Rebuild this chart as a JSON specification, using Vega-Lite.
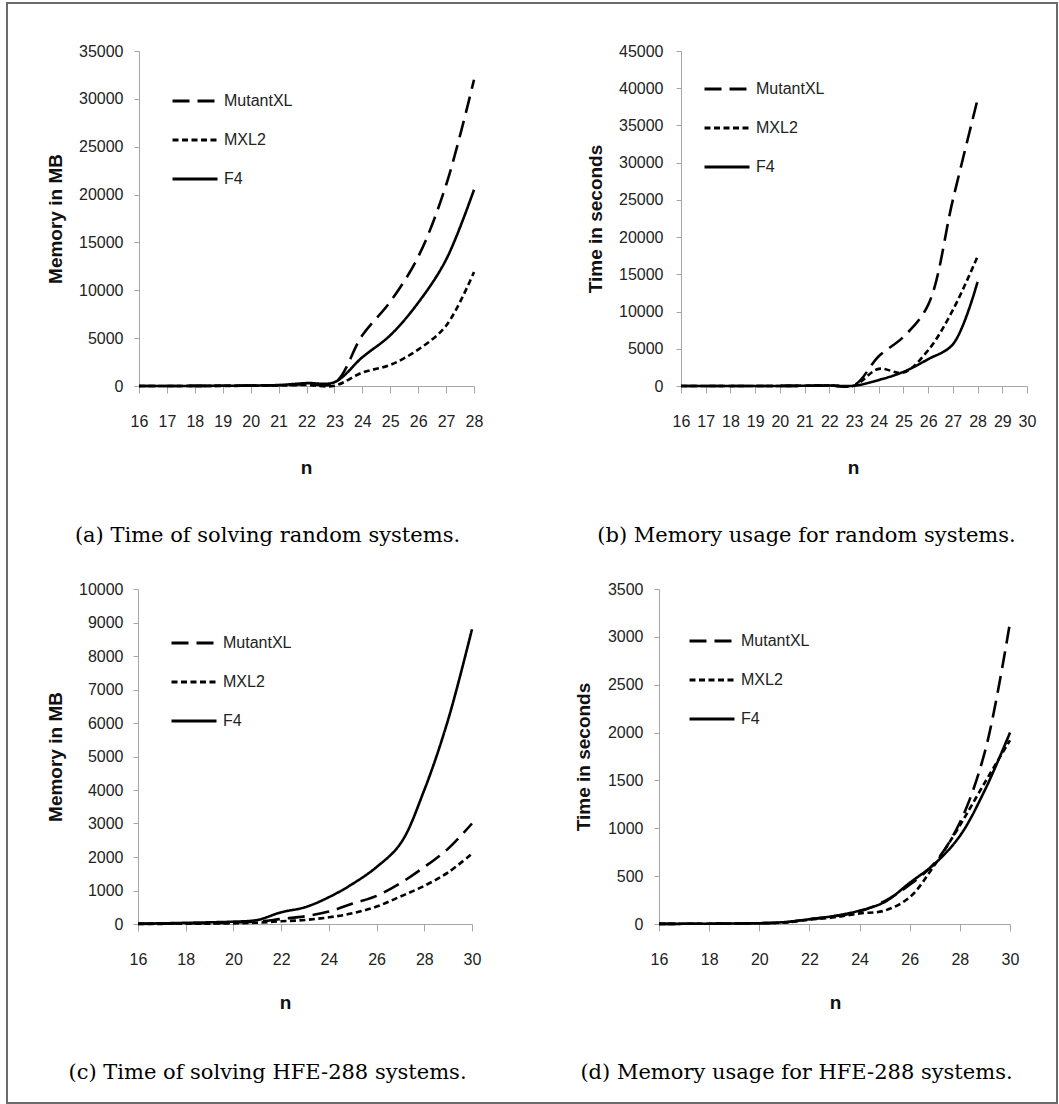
{
  "$schema": "https://vega.github.io/schema/vega-lite/v6.json",
  "width": 1050,
  "height": 1100,
  "autosize": {"type": "none"},
  "padding": {"left": 7, "top": 3, "right": 2, "bottom": 1},
  "background": "white",
  "data": {
    "values": [
      {"p": "a", "s": "MutantXL", "n": 16, "v": 2}, {"p": "a", "s": "MutantXL", "n": 17, "v": 5}, {"p": "a", "s": "MutantXL", "n": 18, "v": 10}, {"p": "a", "s": "MutantXL", "n": 19, "v": 20}, {"p": "a", "s": "MutantXL", "n": 20, "v": 40}, {"p": "a", "s": "MutantXL", "n": 21, "v": 80}, {"p": "a", "s": "MutantXL", "n": 22, "v": 200}, {"p": "a", "s": "MutantXL", "n": 23, "v": 300}, {"p": "a", "s": "MutantXL", "n": 24, "v": 5300}, {"p": "a", "s": "MutantXL", "n": 25, "v": 8800}, {"p": "a", "s": "MutantXL", "n": 26, "v": 13500}, {"p": "a", "s": "MutantXL", "n": 27, "v": 21000}, {"p": "a", "s": "MutantXL", "n": 28, "v": 32000},
      {"p": "a", "s": "MXL2", "n": 16, "v": 1}, {"p": "a", "s": "MXL2", "n": 17, "v": 3}, {"p": "a", "s": "MXL2", "n": 18, "v": 6}, {"p": "a", "s": "MXL2", "n": 19, "v": 12}, {"p": "a", "s": "MXL2", "n": 20, "v": 25}, {"p": "a", "s": "MXL2", "n": 21, "v": 50}, {"p": "a", "s": "MXL2", "n": 22, "v": 100}, {"p": "a", "s": "MXL2", "n": 23, "v": 30}, {"p": "a", "s": "MXL2", "n": 24, "v": 1400}, {"p": "a", "s": "MXL2", "n": 25, "v": 2200}, {"p": "a", "s": "MXL2", "n": 26, "v": 3800}, {"p": "a", "s": "MXL2", "n": 27, "v": 6300}, {"p": "a", "s": "MXL2", "n": 28, "v": 11900},
      {"p": "a", "s": "F4", "n": 16, "v": 2}, {"p": "a", "s": "F4", "n": 17, "v": 5}, {"p": "a", "s": "F4", "n": 18, "v": 10}, {"p": "a", "s": "F4", "n": 19, "v": 25}, {"p": "a", "s": "F4", "n": 20, "v": 50}, {"p": "a", "s": "F4", "n": 21, "v": 100}, {"p": "a", "s": "F4", "n": 22, "v": 300}, {"p": "a", "s": "F4", "n": 23, "v": 400}, {"p": "a", "s": "F4", "n": 24, "v": 3000}, {"p": "a", "s": "F4", "n": 25, "v": 5300}, {"p": "a", "s": "F4", "n": 26, "v": 8700}, {"p": "a", "s": "F4", "n": 27, "v": 13200}, {"p": "a", "s": "F4", "n": 28, "v": 20500},

      {"p": "b", "s": "MutantXL", "n": 16, "v": 1}, {"p": "b", "s": "MutantXL", "n": 17, "v": 2}, {"p": "b", "s": "MutantXL", "n": 18, "v": 3}, {"p": "b", "s": "MutantXL", "n": 19, "v": 5}, {"p": "b", "s": "MutantXL", "n": 20, "v": 10}, {"p": "b", "s": "MutantXL", "n": 21, "v": 30}, {"p": "b", "s": "MutantXL", "n": 22, "v": 80}, {"p": "b", "s": "MutantXL", "n": 23, "v": 100}, {"p": "b", "s": "MutantXL", "n": 24, "v": 4000}, {"p": "b", "s": "MutantXL", "n": 25, "v": 6600}, {"p": "b", "s": "MutantXL", "n": 26, "v": 10900}, {"p": "b", "s": "MutantXL", "n": 27, "v": 25000}, {"p": "b", "s": "MutantXL", "n": 28, "v": 38500},
      {"p": "b", "s": "MXL2", "n": 16, "v": 1}, {"p": "b", "s": "MXL2", "n": 17, "v": 2}, {"p": "b", "s": "MXL2", "n": 18, "v": 3}, {"p": "b", "s": "MXL2", "n": 19, "v": 5}, {"p": "b", "s": "MXL2", "n": 20, "v": 10}, {"p": "b", "s": "MXL2", "n": 21, "v": 30}, {"p": "b", "s": "MXL2", "n": 22, "v": 80}, {"p": "b", "s": "MXL2", "n": 23, "v": 50}, {"p": "b", "s": "MXL2", "n": 24, "v": 2300}, {"p": "b", "s": "MXL2", "n": 25, "v": 1800}, {"p": "b", "s": "MXL2", "n": 26, "v": 4800}, {"p": "b", "s": "MXL2", "n": 27, "v": 10200}, {"p": "b", "s": "MXL2", "n": 28, "v": 17400},
      {"p": "b", "s": "F4", "n": 16, "v": 1}, {"p": "b", "s": "F4", "n": 17, "v": 2}, {"p": "b", "s": "F4", "n": 18, "v": 3}, {"p": "b", "s": "F4", "n": 19, "v": 5}, {"p": "b", "s": "F4", "n": 20, "v": 10}, {"p": "b", "s": "F4", "n": 21, "v": 30}, {"p": "b", "s": "F4", "n": 22, "v": 60}, {"p": "b", "s": "F4", "n": 23, "v": 30}, {"p": "b", "s": "F4", "n": 24, "v": 800}, {"p": "b", "s": "F4", "n": 25, "v": 1900}, {"p": "b", "s": "F4", "n": 26, "v": 3600}, {"p": "b", "s": "F4", "n": 27, "v": 5600}, {"p": "b", "s": "F4", "n": 28, "v": 14000},

      {"p": "c", "s": "MutantXL", "n": 16, "v": 5}, {"p": "c", "s": "MutantXL", "n": 17, "v": 10}, {"p": "c", "s": "MutantXL", "n": 18, "v": 15}, {"p": "c", "s": "MutantXL", "n": 19, "v": 25}, {"p": "c", "s": "MutantXL", "n": 20, "v": 40}, {"p": "c", "s": "MutantXL", "n": 21, "v": 70}, {"p": "c", "s": "MutantXL", "n": 22, "v": 150}, {"p": "c", "s": "MutantXL", "n": 23, "v": 230}, {"p": "c", "s": "MutantXL", "n": 24, "v": 370}, {"p": "c", "s": "MutantXL", "n": 25, "v": 610}, {"p": "c", "s": "MutantXL", "n": 26, "v": 840}, {"p": "c", "s": "MutantXL", "n": 27, "v": 1220}, {"p": "c", "s": "MutantXL", "n": 28, "v": 1700}, {"p": "c", "s": "MutantXL", "n": 29, "v": 2250}, {"p": "c", "s": "MutantXL", "n": 30, "v": 3000},
      {"p": "c", "s": "MXL2", "n": 16, "v": 3}, {"p": "c", "s": "MXL2", "n": 17, "v": 5}, {"p": "c", "s": "MXL2", "n": 18, "v": 8}, {"p": "c", "s": "MXL2", "n": 19, "v": 12}, {"p": "c", "s": "MXL2", "n": 20, "v": 20}, {"p": "c", "s": "MXL2", "n": 21, "v": 40}, {"p": "c", "s": "MXL2", "n": 22, "v": 80}, {"p": "c", "s": "MXL2", "n": 23, "v": 120}, {"p": "c", "s": "MXL2", "n": 24, "v": 200}, {"p": "c", "s": "MXL2", "n": 25, "v": 320}, {"p": "c", "s": "MXL2", "n": 26, "v": 520}, {"p": "c", "s": "MXL2", "n": 27, "v": 820}, {"p": "c", "s": "MXL2", "n": 28, "v": 1140}, {"p": "c", "s": "MXL2", "n": 29, "v": 1540}, {"p": "c", "s": "MXL2", "n": 30, "v": 2100},
      {"p": "c", "s": "F4", "n": 16, "v": 10}, {"p": "c", "s": "F4", "n": 17, "v": 20}, {"p": "c", "s": "F4", "n": 18, "v": 35}, {"p": "c", "s": "F4", "n": 19, "v": 50}, {"p": "c", "s": "F4", "n": 20, "v": 70}, {"p": "c", "s": "F4", "n": 21, "v": 120}, {"p": "c", "s": "F4", "n": 22, "v": 350}, {"p": "c", "s": "F4", "n": 23, "v": 500}, {"p": "c", "s": "F4", "n": 24, "v": 800}, {"p": "c", "s": "F4", "n": 25, "v": 1200}, {"p": "c", "s": "F4", "n": 26, "v": 1700}, {"p": "c", "s": "F4", "n": 27, "v": 2400}, {"p": "c", "s": "F4", "n": 28, "v": 4000}, {"p": "c", "s": "F4", "n": 29, "v": 6100}, {"p": "c", "s": "F4", "n": 30, "v": 8800},

      {"p": "d", "s": "MutantXL", "n": 16, "v": 1}, {"p": "d", "s": "MutantXL", "n": 17, "v": 2}, {"p": "d", "s": "MutantXL", "n": 18, "v": 3}, {"p": "d", "s": "MutantXL", "n": 19, "v": 5}, {"p": "d", "s": "MutantXL", "n": 20, "v": 8}, {"p": "d", "s": "MutantXL", "n": 21, "v": 15}, {"p": "d", "s": "MutantXL", "n": 22, "v": 50}, {"p": "d", "s": "MutantXL", "n": 23, "v": 80}, {"p": "d", "s": "MutantXL", "n": 24, "v": 130}, {"p": "d", "s": "MutantXL", "n": 25, "v": 240}, {"p": "d", "s": "MutantXL", "n": 26, "v": 410}, {"p": "d", "s": "MutantXL", "n": 27, "v": 640}, {"p": "d", "s": "MutantXL", "n": 28, "v": 1060}, {"p": "d", "s": "MutantXL", "n": 29, "v": 1800}, {"p": "d", "s": "MutantXL", "n": 30, "v": 3150},
      {"p": "d", "s": "MXL2", "n": 16, "v": 1}, {"p": "d", "s": "MXL2", "n": 17, "v": 2}, {"p": "d", "s": "MXL2", "n": 18, "v": 3}, {"p": "d", "s": "MXL2", "n": 19, "v": 5}, {"p": "d", "s": "MXL2", "n": 20, "v": 8}, {"p": "d", "s": "MXL2", "n": 21, "v": 15}, {"p": "d", "s": "MXL2", "n": 22, "v": 45}, {"p": "d", "s": "MXL2", "n": 23, "v": 70}, {"p": "d", "s": "MXL2", "n": 24, "v": 110}, {"p": "d", "s": "MXL2", "n": 25, "v": 140}, {"p": "d", "s": "MXL2", "n": 26, "v": 280}, {"p": "d", "s": "MXL2", "n": 27, "v": 620}, {"p": "d", "s": "MXL2", "n": 28, "v": 1030}, {"p": "d", "s": "MXL2", "n": 29, "v": 1480}, {"p": "d", "s": "MXL2", "n": 30, "v": 1920},
      {"p": "d", "s": "F4", "n": 16, "v": 1}, {"p": "d", "s": "F4", "n": 17, "v": 2}, {"p": "d", "s": "F4", "n": 18, "v": 3}, {"p": "d", "s": "F4", "n": 19, "v": 5}, {"p": "d", "s": "F4", "n": 20, "v": 8}, {"p": "d", "s": "F4", "n": 21, "v": 20}, {"p": "d", "s": "F4", "n": 22, "v": 50}, {"p": "d", "s": "F4", "n": 23, "v": 85}, {"p": "d", "s": "F4", "n": 24, "v": 140}, {"p": "d", "s": "F4", "n": 25, "v": 230}, {"p": "d", "s": "F4", "n": 26, "v": 430}, {"p": "d", "s": "F4", "n": 27, "v": 630}, {"p": "d", "s": "F4", "n": 28, "v": 920}, {"p": "d", "s": "F4", "n": 29, "v": 1400}, {"p": "d", "s": "F4", "n": 30, "v": 2000}
    ]
  },
  "layer": [
    {
      "transform": [{"filter": "datum.p == 'a'"}],
      "layer": [
        {
          "mark": {"type": "line", "interpolate": "catmull-rom", "color": "black", "strokeWidth": 2.6},
          "encoding": {
            "x": {"field": "n", "type": "quantitative", "scale": {"domain": [16, 28], "range": [132, 467], "nice": false, "zero": false},
                  "axis": {"orient": "bottom", "offset": -717, "values": [16, 17, 18, 19, 20, 21, 22, 23, 24, 25, 26, 27, 28], "format": "d", "title": "n", "titleX": 299, "titleY": 81, "titleBaseline": "middle"}},
            "y": {"field": "v", "type": "quantitative", "scale": {"domain": [0, 35000], "range": [383, 48], "nice": false},
                  "axis": {"orient": "left", "offset": -132, "values": [0, 5000, 10000, 15000, 20000, 25000, 30000, 35000], "format": "d", "labelPadding": 11, "title": "Memory in MB", "titleX": -84, "titleY": 215.5, "titleBaseline": "middle"}},
            "strokeDash": {"field": "s", "type": "nominal", "scale": {"domain": ["MutantXL", "MXL2", "F4"], "range": [[17, 8], [6, 3.5], [1, 0]]},
                           "legend": {"orient": "none", "legendX": 164, "legendY": 74}}
          }
        },
        {
          "mark": {"type": "line", "strokeOpacity": 0},
          "encoding": {
            "x": {"field": "n", "type": "quantitative", "scale": {"domain": [16, 28], "range": [132, 467], "nice": false, "zero": false},
                  "axis": {"orient": "bottom", "offset": -717, "domain": false, "ticks": false, "labels": false, "title": "(a) Time of solving random systems.", "titleX": 260, "titleY": 149, "titleBaseline": "middle", "titleFont": "DejaVu Serif", "titleFontWeight": "normal", "titleFontSize": 21, "titleColor": "black"}},
            "y": {"field": "v", "type": "quantitative", "scale": {"domain": [0, 35000], "range": [383, 48], "nice": false}, "axis": null}
          }
        }
      ],
      "resolve": {"scale": {"x": "independent", "y": "independent"}, "axis": {"x": "independent", "y": "independent"}}
    },
    {
      "transform": [{"filter": "datum.p == 'b'"}],
      "layer": [
        {
          "mark": {"type": "line", "interpolate": "catmull-rom", "color": "black", "strokeWidth": 2.6},
          "encoding": {
            "x": {"field": "n", "type": "quantitative", "scale": {"domain": [16, 30], "range": [674, 1020], "nice": false, "zero": false},
                  "axis": {"orient": "bottom", "offset": -717, "values": [16, 17, 18, 19, 20, 21, 22, 23, 24, 25, 26, 27, 28, 29, 30], "format": "d", "title": "n", "titleX": 846, "titleY": 81, "titleBaseline": "middle"}},
            "y": {"field": "v", "type": "quantitative", "scale": {"domain": [0, 45000], "range": [383, 48], "nice": false},
                  "axis": {"orient": "left", "offset": -674, "values": [0, 5000, 10000, 15000, 20000, 25000, 30000, 35000, 40000, 45000], "format": "d", "labelPadding": 13, "title": "Time in seconds", "titleX": -86, "titleY": 215.5, "titleBaseline": "middle"}},
            "strokeDash": {"field": "s", "type": "nominal", "scale": {"domain": ["MutantXL", "MXL2", "F4"], "range": [[17, 8], [6, 3.5], [1, 0]]},
                           "legend": {"orient": "none", "legendX": 696, "legendY": 62}}
          }
        },
        {
          "mark": {"type": "line", "strokeOpacity": 0},
          "encoding": {
            "x": {"field": "n", "type": "quantitative", "scale": {"domain": [16, 30], "range": [674, 1020], "nice": false, "zero": false},
                  "axis": {"orient": "bottom", "offset": -717, "domain": false, "ticks": false, "labels": false, "title": "(b) Memory usage for random systems.", "titleX": 799, "titleY": 149, "titleBaseline": "middle", "titleFont": "DejaVu Serif", "titleFontWeight": "normal", "titleFontSize": 21, "titleColor": "black"}},
            "y": {"field": "v", "type": "quantitative", "scale": {"domain": [0, 45000], "range": [383, 48], "nice": false}, "axis": null}
          }
        }
      ],
      "resolve": {"scale": {"x": "independent", "y": "independent"}, "axis": {"x": "independent", "y": "independent"}}
    },
    {
      "transform": [{"filter": "datum.p == 'c'"}],
      "layer": [
        {
          "mark": {"type": "line", "interpolate": "catmull-rom", "color": "black", "strokeWidth": 2.6},
          "encoding": {
            "x": {"field": "n", "type": "quantitative", "scale": {"domain": [16, 30], "range": [131, 465], "nice": false, "zero": false},
                  "axis": {"orient": "bottom", "offset": -179, "values": [16, 18, 20, 22, 24, 26, 28, 30], "format": "d", "title": "n", "titleX": 278, "titleY": 78, "titleBaseline": "middle"}},
            "y": {"field": "v", "type": "quantitative", "scale": {"domain": [0, 10000], "range": [921, 586], "nice": false},
                  "axis": {"orient": "left", "offset": -131, "values": [0, 1000, 2000, 3000, 4000, 5000, 6000, 7000, 8000, 9000, 10000], "format": "d", "labelPadding": 10, "title": "Memory in MB", "titleX": -83, "titleY": 753.5, "titleBaseline": "middle"}},
            "strokeDash": {"field": "s", "type": "nominal", "scale": {"domain": ["MutantXL", "MXL2", "F4"], "range": [[17, 8], [6, 3.5], [1, 0]]},
                           "legend": {"orient": "none", "legendX": 163, "legendY": 616}}
          }
        },
        {
          "mark": {"type": "line", "strokeOpacity": 0},
          "encoding": {
            "x": {"field": "n", "type": "quantitative", "scale": {"domain": [16, 30], "range": [131, 465], "nice": false, "zero": false},
                  "axis": {"orient": "bottom", "offset": -179, "domain": false, "ticks": false, "labels": false, "title": "(c) Time of solving HFE-288 systems.", "titleX": 260, "titleY": 148, "titleBaseline": "middle", "titleFont": "DejaVu Serif", "titleFontWeight": "normal", "titleFontSize": 21, "titleColor": "black"}},
            "y": {"field": "v", "type": "quantitative", "scale": {"domain": [0, 10000], "range": [921, 586], "nice": false}, "axis": null}
          }
        }
      ],
      "resolve": {"scale": {"x": "independent", "y": "independent"}, "axis": {"x": "independent", "y": "independent"}}
    },
    {
      "transform": [{"filter": "datum.p == 'd'"}],
      "layer": [
        {
          "mark": {"type": "line", "interpolate": "catmull-rom", "color": "black", "strokeWidth": 2.6},
          "encoding": {
            "x": {"field": "n", "type": "quantitative", "scale": {"domain": [16, 30], "range": [652, 1003], "nice": false, "zero": false},
                  "axis": {"orient": "bottom", "offset": -179, "values": [16, 18, 20, 22, 24, 26, 28, 30], "format": "d", "title": "n", "titleX": 828, "titleY": 78, "titleBaseline": "middle"}},
            "y": {"field": "v", "type": "quantitative", "scale": {"domain": [0, 3500], "range": [921, 586], "nice": false},
                  "axis": {"orient": "left", "offset": -652, "values": [0, 500, 1000, 1500, 2000, 2500, 3000, 3500], "format": "d", "labelPadding": 11, "title": "Time in seconds", "titleX": -76, "titleY": 753.5, "titleBaseline": "middle"}},
            "strokeDash": {"field": "s", "type": "nominal", "scale": {"domain": ["MutantXL", "MXL2", "F4"], "range": [[17, 8], [6, 3.5], [1, 0]]},
                           "legend": {"orient": "none", "legendX": 681, "legendY": 614}}
          }
        },
        {
          "mark": {"type": "line", "strokeOpacity": 0},
          "encoding": {
            "x": {"field": "n", "type": "quantitative", "scale": {"domain": [16, 30], "range": [652, 1003], "nice": false, "zero": false},
                  "axis": {"orient": "bottom", "offset": -179, "domain": false, "ticks": false, "labels": false, "title": "(d) Memory usage for HFE-288 systems.", "titleX": 789, "titleY": 148, "titleBaseline": "middle", "titleFont": "DejaVu Serif", "titleFontWeight": "normal", "titleFontSize": 21, "titleColor": "black"}},
            "y": {"field": "v", "type": "quantitative", "scale": {"domain": [0, 3500], "range": [921, 586], "nice": false}, "axis": null}
          }
        }
      ],
      "resolve": {"scale": {"x": "independent", "y": "independent"}, "axis": {"x": "independent", "y": "independent"}}
    }
  ],
  "resolve": {
    "scale": {"x": "independent", "y": "independent", "strokeDash": "independent"},
    "axis": {"x": "independent", "y": "independent"},
    "legend": {"strokeDash": "independent"}
  },
  "config": {
    "view": {"stroke": "#6b6b6b", "strokeWidth": 2},
    "axis": {
      "grid": false,
      "domainColor": "#a6a6a6",
      "tickColor": "#a6a6a6",
      "labelColor": "#222222",
      "labelFont": "Liberation Sans, sans-serif",
      "labelFontSize": 16,
      "labelOverlap": false,
      "labelBound": false,
      "labelFlush": false,
      "titleFont": "Liberation Sans, sans-serif",
      "titleFontWeight": "bold",
      "titleFontSize": 19,
      "titleColor": "#111111"
    },
    "axisX": {"tickSize": 7, "labelPadding": 20, "labelFlush": false},
    "axisY": {"tickSize": 5},
    "legend": {
      "title": null,
      "padding": 0,
      "symbolType": "stroke",
      "symbolSize": 2025,
      "symbolStrokeWidth": 3,
      "symbolStrokeColor": "black",
      "labelFont": "Liberation Sans, sans-serif",
      "labelFontSize": 16,
      "labelColor": "#222222",
      "labelOffset": 5,
      "rowPadding": 7
    }
  }
}
